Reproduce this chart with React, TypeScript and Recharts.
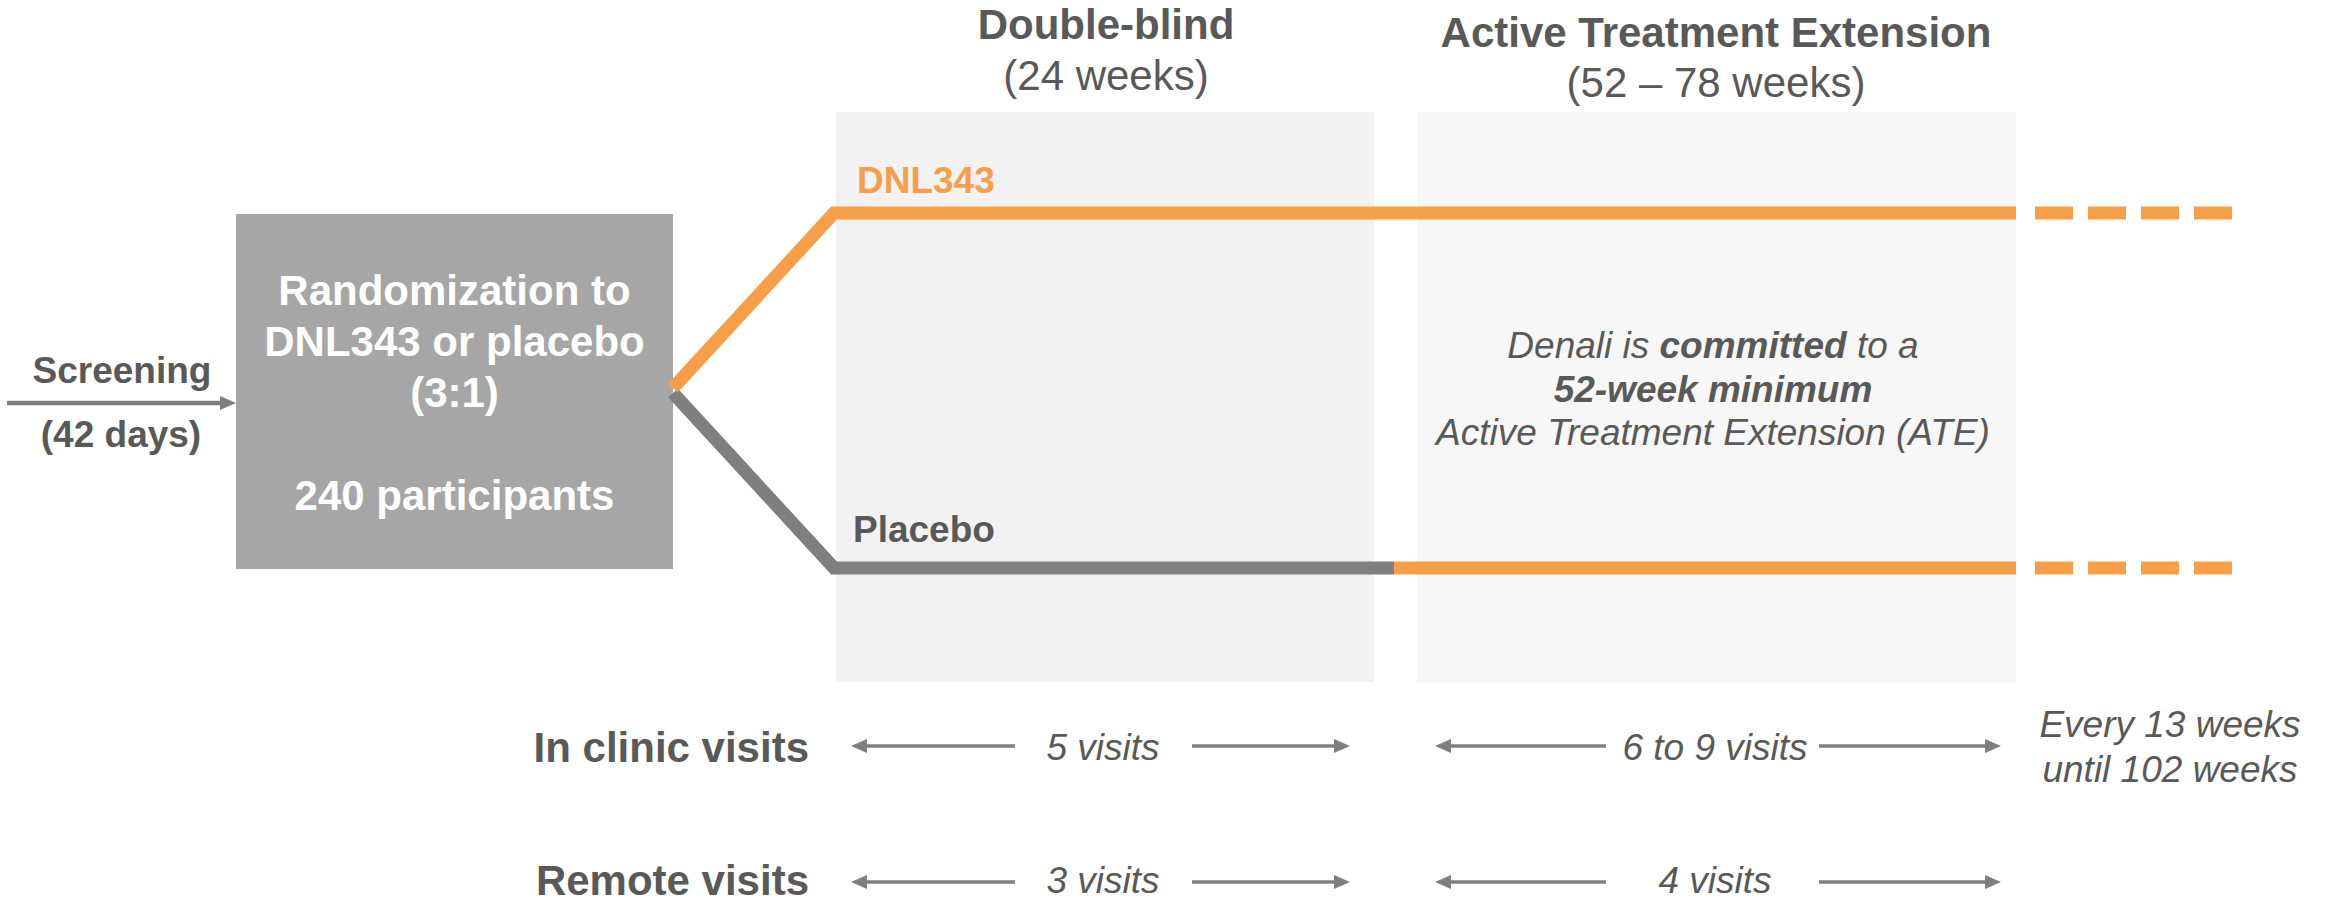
import React from 'react';
import {
  ComposedChart,
  Line,
  XAxis,
  YAxis,
  ReferenceArea,
  ReferenceDot,
  ReferenceLine,
} from 'recharts';

const W = 2333;
const H = 903;

const ORANGE = '#F79E49';
const GREY_LINE = '#7F7F7F';
const BOX_GREY = '#A6A6A6';
const TEXT = '#595959';
const FONT = '"Liberation Sans", Arial, Helvetica, sans-serif';

// content
const phaseTitles = ['Double-blind', 'Active Treatment Extension'];
const phaseDurations = ['(24 weeks)', '(52 – 78 weeks)'];
const phaseFills = ['#F2F2F2', '#F7F7F7'];
const armNames = ['DNL343', 'Placebo'];
const armLabelColors = [ORANGE, TEXT];
const screeningLines = ['Screening', '(42 days)'];
const randomizationLines = ['Randomization to', 'DNL343 or placebo', '(3:1)'];
const participants = '240 participants';
const visitTypes = ['In clinic visits', 'Remote visits'];
const inClinicVisits = ['5 visits', '6 to 9 visits'];
const remoteVisits = ['3 visits', '4 visits'];
const followUp = ['Every 13 weeks', 'until 102 weeks'];

// layout (diagram units equal pixels)
const phaseX = [
  [836, 1374],
  [1417, 2016],
];
const phaseTop = 112;
const phaseBottom = 682;
const phaseCenter = [1106, 1716];
const titleBase = [39, 47];
const durationBase = [90, 97];

const box = { x1: 236, x2: 673, y1: 214, y2: 569 };
const armStartY = [388, 393];
const armY = [213, 568];
const armTurnX = 834;
const placeboSwitchX = 1394;
const solidEndX = 2016;
const dashX = [2035, 2233];

const visitRowY = [746, 882];
const visitTextBase = [760, 893];
const visitTextX = [1103, 1715];
const arrowSegments = [
  [1015, 851, 1192, 1350],
  [1606, 1435, 1819, 2001],
];

const pt = (x: number, y: number) => ({ x, y });

const arrowShape = (width: number) => (p: any) => {
  const { x1, y1, x2, y2 } = p;
  const dir = Math.sign(x2 - x1) || 1;
  const head = 16;
  const half = 7;
  return (
    <g>
      <line
        x1={x1}
        y1={y1}
        x2={x2 - dir * (head - 1)}
        y2={y2}
        stroke={GREY_LINE}
        strokeWidth={width}
      />
      <polygon
        points={`${x2},${y2} ${x2 - dir * head},${y2 - half} ${x2 - dir * head},${y2 + half}`}
        fill={GREY_LINE}
      />
    </g>
  );
};

type TextOpts = {
  size: number;
  bold?: boolean;
  italic?: boolean;
  color?: string;
  anchor?: 'start' | 'middle' | 'end';
};

const textAt = (key: string, x: number, y: number, content: React.ReactNode, o: TextOpts) => (
  <ReferenceDot
    key={key}
    x={x}
    y={y}
    r={0}
    isFront
    ifOverflow="visible"
    shape={(p: any) => (
      <text
        x={p.cx}
        y={p.cy}
        fontFamily={FONT}
        fontSize={o.size}
        fontWeight={o.bold ? 'bold' : 'normal'}
        fontStyle={o.italic ? 'italic' : 'normal'}
        fill={o.color ?? TEXT}
        textAnchor={o.anchor ?? 'middle'}
      >
        {content}
      </text>
    )}
  />
);

export default function App() {
  const dnlPath = [pt(box.x2, armStartY[0]), pt(armTurnX, armY[0]), pt(solidEndX, armY[0])];
  const placeboPath = [pt(box.x2, armStartY[1]), pt(armTurnX, armY[1]), pt(placeboSwitchX, armY[1])];
  const placeboAte = [pt(placeboSwitchX, armY[1]), pt(solidEndX, armY[1])];
  const dashes = armY.map((y) => [pt(dashX[0], y), pt(dashX[1], y)]);

  const boxCx = (box.x1 + box.x2) / 2;

  return (
    <div style={{ position: 'absolute', left: 0, top: 0, width: W, height: H, background: '#fff' }}>
      <ComposedChart width={W} height={H} margin={{ top: 0, right: 0, bottom: 0, left: 0 }}>
        <XAxis type="number" dataKey="x" domain={[0, W]} allowDataOverflow hide />
        <YAxis type="number" dataKey="y" domain={[0, H]} reversed allowDataOverflow hide />

        {phaseX.map(([x1, x2], i) => (
          <ReferenceArea
            key={`phase-${i}`}
            x1={x1}
            x2={x2}
            y1={phaseTop}
            y2={phaseBottom}
            fill={phaseFills[i]}
            fillOpacity={1}
            stroke="none"
            ifOverflow="visible"
          />
        ))}
        <ReferenceArea
          x1={box.x1}
          x2={box.x2}
          y1={box.y1}
          y2={box.y2}
          fill={BOX_GREY}
          fillOpacity={1}
          stroke="none"
          ifOverflow="visible"
        />

        <Line data={placeboPath} dataKey="y" stroke={GREY_LINE} strokeWidth={13} dot={false} activeDot={false} isAnimationActive={false} />
        <Line data={placeboAte} dataKey="y" stroke={ORANGE} strokeWidth={13} dot={false} activeDot={false} isAnimationActive={false} />
        <Line data={dnlPath} dataKey="y" stroke={ORANGE} strokeWidth={13} dot={false} activeDot={false} isAnimationActive={false} />
        {dashes.map((d, i) => (
          <Line
            key={`dash-${i}`}
            data={d}
            dataKey="y"
            stroke={ORANGE}
            strokeWidth={13}
            strokeDasharray="38 15"
            dot={false}
            activeDot={false}
            isAnimationActive={false}
          />
        ))}

        <ReferenceLine
          segment={[pt(7, 403), pt(box.x1, 403)]}
          ifOverflow="visible"
          shape={arrowShape(4.5)}
        />
        {visitRowY.map((y, r) =>
          arrowSegments.map(([a1, a2, b1, b2], i) => [
            <ReferenceLine
              key={`al-${r}-${i}`}
              segment={[pt(a1, y), pt(a2, y)]}
              ifOverflow="visible"
              shape={arrowShape(3.5)}
            />,
            <ReferenceLine
              key={`ar-${r}-${i}`}
              segment={[pt(b1, y), pt(b2, y)]}
              ifOverflow="visible"
              shape={arrowShape(3.5)}
            />,
          ])
        )}

        {phaseTitles.map((t, i) => textAt(`pt-${i}`, phaseCenter[i], titleBase[i], t, { size: 42, bold: true }))}
        {phaseDurations.map((t, i) => textAt(`pd-${i}`, phaseCenter[i], durationBase[i], t, { size: 42 }))}

        {textAt('arm-0', 857, 193, armNames[0], { size: 37, bold: true, color: armLabelColors[0], anchor: 'start' })}
        {textAt('arm-1', 853, 542, armNames[1], { size: 37, bold: true, color: armLabelColors[1], anchor: 'start' })}

        {textAt('scr-0', 122, 383, screeningLines[0], { size: 37, bold: true })}
        {textAt('scr-1', 121, 447, screeningLines[1], { size: 37, bold: true })}

        {randomizationLines.map((t, i) =>
          textAt(`rnd-${i}`, boxCx, 305 + i * 51, t, { size: 42, bold: true, color: '#FFFFFF' })
        )}
        {textAt('rnd-n', boxCx, 510, participants, { size: 42, bold: true, color: '#FFFFFF' })}

        {textAt(
          'ate-1',
          1713,
          358,
          <>
            <tspan>Denali is </tspan>
            <tspan fontWeight="bold">committed</tspan>
            <tspan> to a</tspan>
          </>,
          { size: 37, italic: true }
        )}
        {textAt('ate-2', 1713, 402, '52-week minimum', { size: 37, italic: true, bold: true })}
        {textAt('ate-3', 1713, 445, 'Active Treatment Extension (ATE)', { size: 37, italic: true })}

        {visitTypes.map((t, i) =>
          textAt(`vt-${i}`, 809, visitTextBase[i] + 2, t, { size: 42, bold: true, anchor: 'end' })
        )}
        {inClinicVisits.map((t, i) => textAt(`ic-${i}`, visitTextX[i], visitTextBase[0], t, { size: 37, italic: true }))}
        {remoteVisits.map((t, i) => textAt(`rv-${i}`, visitTextX[i], visitTextBase[1], t, { size: 37, italic: true }))}
        {followUp.map((t, i) => textAt(`fu-${i}`, 2170, 737 + i * 45, t, { size: 37, italic: true }))}
      </ComposedChart>
    </div>
  );
}
